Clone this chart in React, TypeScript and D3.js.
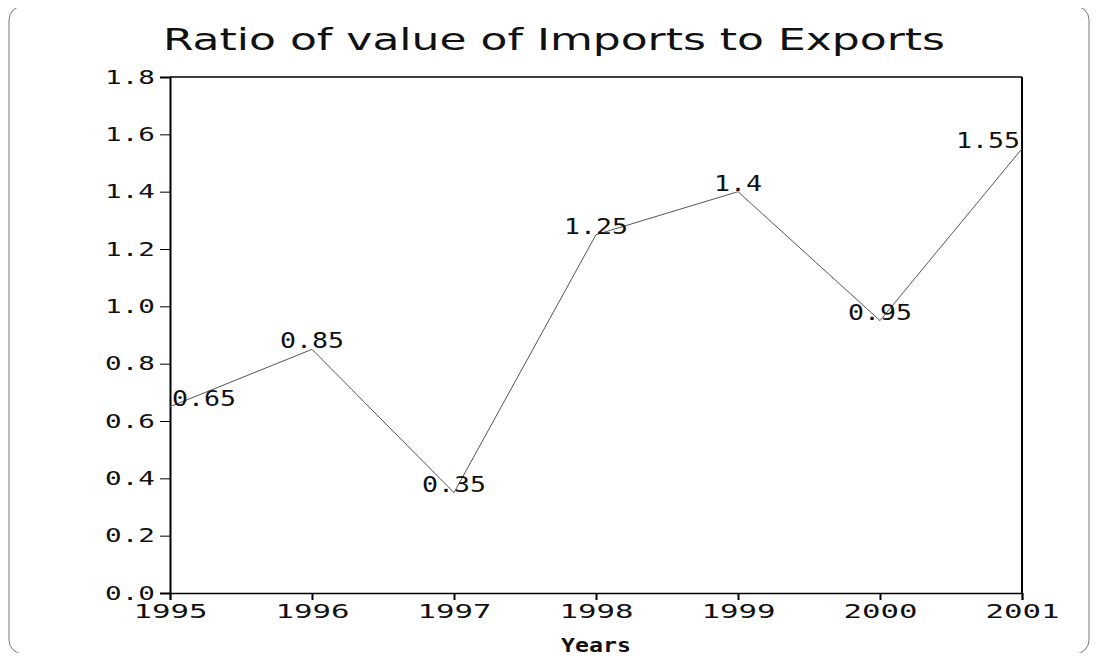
import React, { useEffect, useRef } from 'react';
import * as d3 from 'd3';

const years = ['1995', '1996', '1997', '1998', '1999', '2000', '2001'];
const ratios = [0.65, 0.85, 0.35, 1.25, 1.4, 0.95, 1.55];
const yTicks = [0, 0.2, 0.4, 0.6, 0.8, 1.0, 1.2, 1.4, 1.6, 1.8];

const W = 1098;
const H = 661;
const margin = { top: 77, right: 76, bottom: 68, left: 170 };

export default function App() {
  const ref = useRef<SVGSVGElement>(null);

  useEffect(() => {
    if (!ref.current) return;
    const svg = d3.select(ref.current);
    svg.selectAll('*').remove();

    const width = W - margin.left - margin.right;
    const height = H - margin.top - margin.bottom;
    const mono = '"DejaVu Sans Mono", monospace';

    // outer frame
    svg.append('rect')
      .attr('x', 9).attr('y', 6)
      .attr('width', 1080).attr('height', 648)
      .attr('rx', 14)
      .attr('fill', 'white')
      .attr('stroke', '#777')
      .attr('stroke-width', 1);

    svg.append('text')
      .attr('x', 554).attr('y', 50)
      .attr('text-anchor', 'middle')
      .attr('font-family', '"DejaVu Sans", sans-serif')
      .attr('font-size', 30)
      .attr('textLength', 782)
      .attr('lengthAdjust', 'spacingAndGlyphs')
      .attr('fill', '#111')
      .text('Ratio of value of Imports to Exports');

    const g = svg.append('g')
      .attr('transform', `translate(${margin.left},${margin.top})`);

    const x = d3.scalePoint<string>().domain(years).range([0, width]);
    const y = d3.scaleLinear().domain([0, 1.8]).range([height, 0]);

    // plot border: top and right
    g.append('line').attr('x1', 0).attr('x2', width).attr('y1', 0).attr('y2', 0)
      .attr('stroke', '#000').attr('stroke-width', 1.5);
    g.append('line').attr('x1', width).attr('x2', width).attr('y1', 0).attr('y2', height)
      .attr('stroke', '#000').attr('stroke-width', 2);

    // y axis
    const yAxis = g.append('g')
      .call(d3.axisLeft(y).tickValues(yTicks).tickSize(10).tickPadding(5)
        .tickFormat(d => d3.format('.1f')(d as number)));
    yAxis.select('.domain').attr('stroke-width', 2);
    yAxis.selectAll('text')
      .attr('font-family', mono)
      .attr('font-size', 19)
      .attr('fill', '#111')
      .attr('textLength', 50)
      .attr('lengthAdjust', 'spacingAndGlyphs');

    // x axis
    const xAxis = g.append('g')
      .attr('transform', `translate(0,${height})`)
      .call(d3.axisBottom(x).tickSize(7).tickPadding(5));
    xAxis.select('.domain').attr('stroke-width', 1.5);
    xAxis.selectAll('.tick line').attr('stroke-width', 2);
    xAxis.selectAll('text')
      .attr('font-family', mono)
      .attr('font-size', 19)
      .attr('fill', '#111')
      .attr('textLength', 74)
      .attr('lengthAdjust', 'spacingAndGlyphs');

    g.append('text')
      .attr('x', width / 2).attr('y', height + 59)
      .attr('text-anchor', 'middle')
      .attr('font-family', mono)
      .attr('font-weight', 'bold')
      .attr('font-size', 19)
      .attr('textLength', 70)
      .attr('lengthAdjust', 'spacingAndGlyphs')
      .attr('fill', '#111')
      .text('Years');

    const pts = years.map((yr, i) => ({ yr, v: ratios[i] }));

    const line = d3.line<{ yr: string; v: number }>()
      .x(d => x(d.yr) as number)
      .y(d => y(d.v));

    g.append('path')
      .datum(pts)
      .attr('fill', 'none')
      .attr('stroke', '#555')
      .attr('stroke-width', 1)
      .attr('d', line);

    // value labels
    g.selectAll('.lbl')
      .data(pts)
      .enter().append('text')
      .attr('class', 'lbl')
      .attr('x', (d, i) => {
        const px = x(d.yr) as number;
        if (i === 0) return px + 2;
        if (i === pts.length - 1) return px - 2;
        return px;
      })
      .attr('y', d => y(d.v) - 1)
      .attr('text-anchor', (d, i) => (i === 0 ? 'start' : i === pts.length - 1 ? 'end' : 'middle'))
      .attr('font-family', mono)
      .attr('font-size', 21)
      .attr('fill', '#111')
      .attr('textLength', d => String(d.v).length * 16)
      .attr('lengthAdjust', 'spacingAndGlyphs')
      .text(d => String(d.v));
  }, []);

  return <svg ref={ref} width={W} height={H} style={{ display: 'block', margin: '-8px' }} />;
}
